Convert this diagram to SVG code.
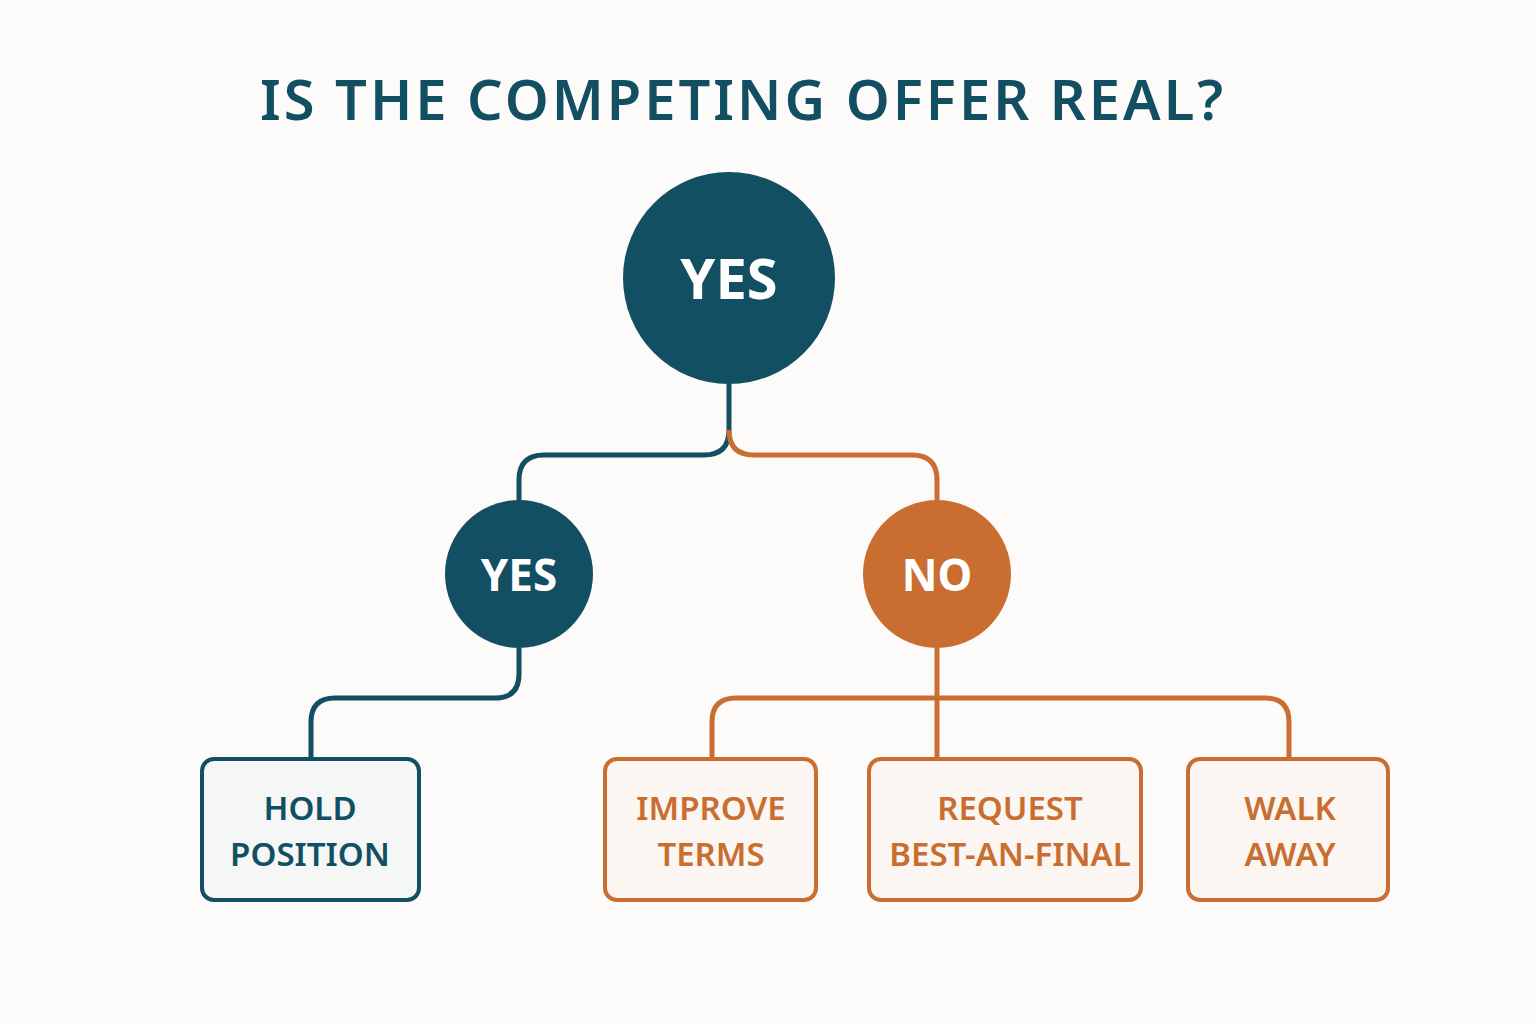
<svg xmlns="http://www.w3.org/2000/svg" width="1536" height="1024" viewBox="0 0 1536 1024">
<style>
.n{fill:#134F63}.o{fill:#C96E30}
.cn{fill:none;stroke:#134F63;stroke-width:5}
.co{fill:none;stroke:#C96E30;stroke-width:5}
.bn{fill:#F4F7F6;stroke:#134F63;stroke-width:4}
.bo{fill:#FBF6F1;stroke:#C96E30;stroke-width:4}
text{font-family:"Noto Sans","Liberation Sans",sans-serif;font-weight:600;text-anchor:middle}
.ct{fill:#fff;font-weight:700}
.tn{fill:#134F63;font-size:33px}.to{fill:#C96E30;font-size:33px}
</style>
<rect width="1536" height="1024" fill="#FCFBF9"/>
<text x="743" y="120" font-size="56" font-weight="700" fill="#134F63" letter-spacing="3">IS THE COMPETING OFFER REAL?</text>
<g id="connectors">
<path class="cn" d="M729 384V430Q729 455 704 455H544Q519 455 519 480V500"/>
<path class="co" d="M729 430Q729 455 754 455H912Q937 455 937 480V500"/>
<path class="cn" d="M519 648V674Q519 698 495 698H335Q311 698 311 722V760"/>
<path class="co" d="M937 648V760"/>
<path class="co" d="M712 760V722Q712 698 736 698H1265Q1289 698 1289 722V760"/>
</g>
<g id="root"><circle class="n" cx="729" cy="278" r="106"/><text class="ct" x="729" y="299" font-size="56">YES</text></g>
<g id="yes"><circle class="n" cx="519" cy="574" r="74"/><text class="ct" x="519" y="591" font-size="44">YES</text></g>
<g id="no"><circle class="o" cx="937" cy="574" r="74"/><text class="ct" x="937" y="591" font-size="44">NO</text></g>
<g id="hold"><rect class="bn" x="202" y="759" width="217" height="141" rx="12"/><text class="tn" x="310" y="820">HOLD</text><text class="tn" x="310" y="866">POSITION</text></g>
<g id="improve"><rect class="bo" x="605" y="759" width="211" height="141" rx="12"/><text class="to" x="711" y="820">IMPROVE</text><text class="to" x="711" y="866">TERMS</text></g>
<g id="request"><rect class="bo" x="869" y="759" width="272" height="141" rx="12"/><text class="to" x="1010" y="820">REQUEST</text><text class="to" x="1010" y="866">BEST-AN-FINAL</text></g>
<g id="walk"><rect class="bo" x="1188" y="759" width="200" height="141" rx="12"/><text class="to" x="1290" y="820">WALK</text><text class="to" x="1290" y="866">AWAY</text></g>
</svg>
